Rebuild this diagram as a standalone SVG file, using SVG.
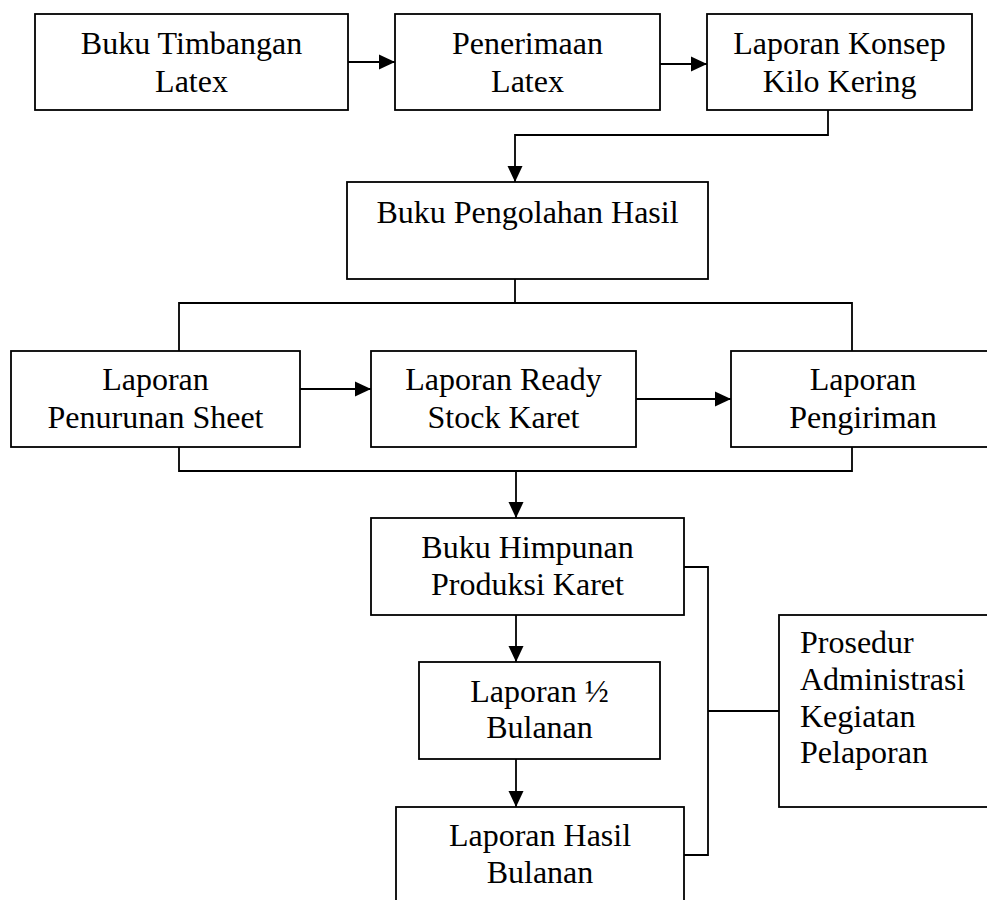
<svg xmlns="http://www.w3.org/2000/svg" width="987" height="900" viewBox="0 0 987 900">
<style>
.box{fill:#fff;stroke:#000;stroke-width:1.8}
.ln{fill:none;stroke:#000;stroke-width:1.8}
text{font-family:"Liberation Serif","Times New Roman",serif;font-size:32px;fill:#000}
.c{text-anchor:middle}
</style>
<defs>
<marker id="ah" markerUnits="userSpaceOnUse" markerWidth="16" markerHeight="16" viewBox="0 0 16 16" refX="16" refY="8" orient="auto">
<path d="M0,0.5 L16,8 L0,15.5 Z" fill="#000"/>
</marker>
</defs>
<rect width="987" height="900" fill="#fff"/>
<g id="connectors">
<line class="ln" x1="348" y1="62" x2="395" y2="62" marker-end="url(#ah)"/>
<line class="ln" x1="660" y1="64" x2="707" y2="64" marker-end="url(#ah)"/>
<path class="ln" d="M828,110 V135 H515 V182" marker-end="url(#ah)"/>
<path class="ln" d="M515,279 V303"/>
<path class="ln" d="M179,351 V303 H852 V351"/>
<line class="ln" x1="300" y1="389" x2="371" y2="389" marker-end="url(#ah)"/>
<line class="ln" x1="636" y1="399" x2="731" y2="399" marker-end="url(#ah)"/>
<path class="ln" d="M179,447 V471 H852 V447"/>
<line class="ln" x1="516" y1="471" x2="516" y2="518" marker-end="url(#ah)"/>
<line class="ln" x1="516" y1="615" x2="516" y2="662" marker-end="url(#ah)"/>
<line class="ln" x1="516" y1="759" x2="516" y2="807" marker-end="url(#ah)"/>
<path class="ln" d="M684,567 H708 V855 H684"/>
<line class="ln" x1="708" y1="711" x2="779" y2="711"/>
</g>
<g id="n1"><rect class="box" x="35" y="14" width="313" height="96"/><text class="c" x="191.5" y="54">Buku Timbangan</text><text class="c" x="191.5" y="92">Latex</text></g>
<g id="n2"><rect class="box" x="395" y="14" width="265" height="96"/><text class="c" x="527.5" y="54">Penerimaan</text><text class="c" x="527.5" y="92">Latex</text></g>
<g id="n3"><rect class="box" x="707" y="14" width="265" height="96"/><text class="c" x="839.5" y="54">Laporan Konsep</text><text class="c" x="839.5" y="92">Kilo Kering</text></g>
<g id="n4"><rect class="box" x="347" y="182" width="361" height="97"/><text class="c" x="527.5" y="223">Buku Pengolahan Hasil</text></g>
<g id="n5"><rect class="box" x="11" y="351" width="289" height="96"/><text class="c" x="155.5" y="390">Laporan</text><text class="c" x="155.5" y="428">Penurunan Sheet</text></g>
<g id="n6"><rect class="box" x="371" y="351" width="265" height="96"/><text class="c" x="503.5" y="390">Laporan Ready</text><text class="c" x="503.5" y="428">Stock Karet</text></g>
<g id="n7"><rect class="box" x="731" y="351" width="270" height="96"/><text class="c" x="863" y="390">Laporan</text><text class="c" x="863" y="428">Pengiriman</text></g>
<g id="n8"><rect class="box" x="371" y="518" width="313" height="97"/><text class="c" x="527.5" y="558">Buku Himpunan</text><text class="c" x="527.5" y="595">Produksi Karet</text></g>
<g id="n9"><rect class="box" x="419" y="662" width="241" height="97"/><text class="c" x="539.5" y="702">Laporan ½</text><text class="c" x="539.5" y="738">Bulanan</text></g>
<g id="n10"><rect class="box" x="396" y="807" width="288" height="120"/><text class="c" x="540" y="846">Laporan Hasil</text><text class="c" x="540" y="883">Bulanan</text></g>
<g id="n11"><rect class="box" x="779" y="615" width="230" height="192"/><text x="800" y="653">Prosedur</text><text x="800" y="690">Administrasi</text><text x="800" y="727">Kegiatan</text><text x="800" y="763">Pelaporan</text></g>
</svg>
